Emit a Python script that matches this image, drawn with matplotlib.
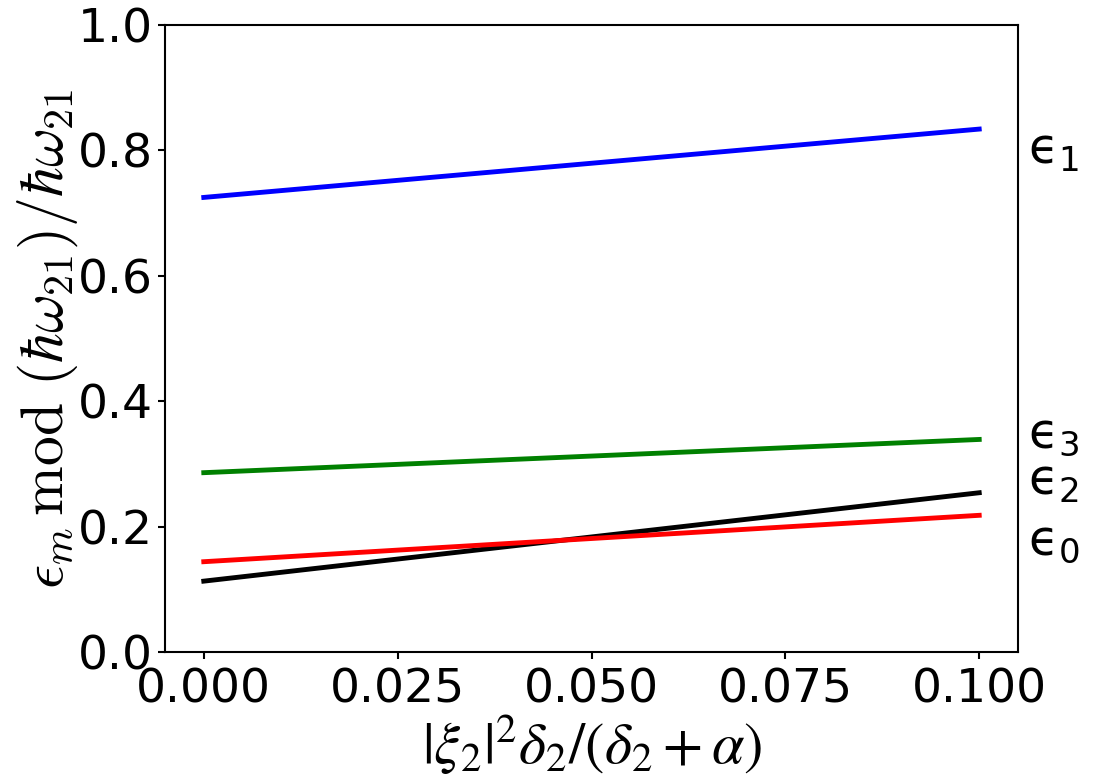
import numpy as np
import matplotlib
matplotlib.use("Agg")
import matplotlib.pyplot as plt

# x axis: |xi_2|^2 delta_2/(delta_2+alpha)
x_vals = [0.0, 0.1]
eps0 = [0.144, 0.218]   # red
eps1 = [0.725, 0.834]   # blue
eps2 = [0.113, 0.254]   # black
eps3 = [0.286, 0.339]   # green
x_ticks = [0.0, 0.025, 0.05, 0.075, 0.1]
y_ticks = [0.0, 0.2, 0.4, 0.6, 0.8, 1.0]

fig = plt.figure(figsize=(10.99, 7.82), dpi=100)
ax = fig.add_axes([165/1099, 1 - 652/782, (1018-165)/1099, (652-25)/782])

lw = 3.5
ax.plot(x_vals, eps1, color="blue", lw=lw)
ax.plot(x_vals, eps3, color="green", lw=lw)
ax.plot(x_vals, eps2, color="black", lw=lw)
ax.plot(x_vals, eps0, color="red", lw=lw)

ax.set_ylim(0, 1)
ax.set_xticks(x_ticks)
ax.set_yticks(y_ticks)
ax.set_xticklabels(["%.3f" % v for v in x_ticks])
ax.set_yticklabels(["%.1f" % v for v in y_ticks])
ax.tick_params(labelsize=34, width=1.5, length=5)
ax.tick_params(axis="x", pad=6)
for sp in ax.spines.values():
    sp.set_linewidth(1.5)

ax.set_ylabel(r"$\epsilon_m\,\mathrm{mod}\ (\hbar\omega_{21})/\hbar\omega_{21}$",
              fontsize=43, math_fontfamily="cm")
ax.yaxis.set_label_coords(-0.1, 0.5)
ax.set_xlabel(r"$|\xi_2|^2\delta_2/(\delta_2+\alpha)$",
              fontsize=42, math_fontfamily="stix", labelpad=1)

labels = [("ϵ$_1$", 0.80),
          ("ϵ$_3$", 0.348),
          ("ϵ$_2$", 0.272),
          ("ϵ$_0$", 0.177)]
for txt, yv in labels:
    ax.text(0.1063, yv, txt, fontsize=35, math_fontfamily="dejavusans",
            va="center", ha="left", clip_on=False)

fig.savefig("out.png", dpi=100)
